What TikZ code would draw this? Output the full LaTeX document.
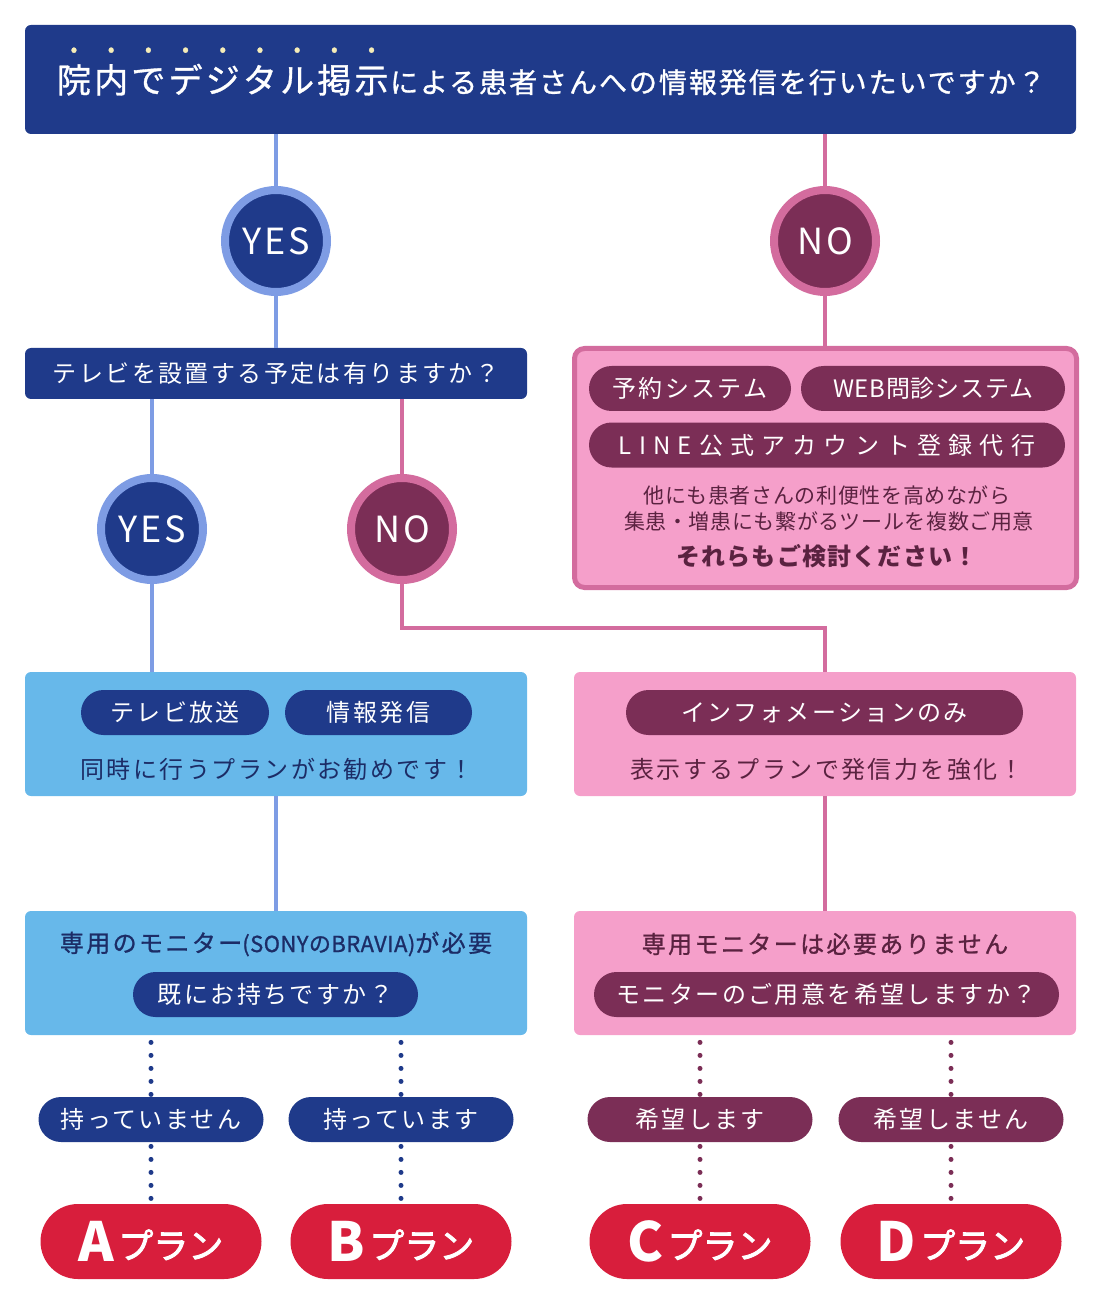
\documentclass[tikz,border=0pt]{standalone}
\usepackage{fontspec}
\setmainfont{Noto Sans CJK JP}
\usetikzlibrary{calc}

\definecolor{navy}{HTML}{1F3A8A}
\definecolor{skyline}{HTML}{7E9CE4}
\definecolor{skyfill}{HTML}{67B8EA}
\definecolor{wine}{HTML}{7B2E56}
\definecolor{rose}{HTML}{D36C9E}
\definecolor{rosefill}{HTML}{F59FCA}
\definecolor{planred}{HTML}{D81E3C}
\definecolor{inknavy}{HTML}{1C2C66}
\definecolor{inkwine}{HTML}{5A2240}
\definecolor{dotcream}{HTML}{F6EDB8}

\newcommand\fsz[1]{\fontsize{#1}{#1}\selectfont}
\newcommand\bouten[1]{\makebox[18.6pt]{\ooalign{#1\cr\hidewidth\smash{\raisebox{1.08em}{\fsz{10pt}\color{dotcream}•}}\hidewidth\cr}}}

\begin{document}
\begin{tikzpicture}[x=0.5pt,y=-0.5pt,
  box/.style={rectangle,rounded corners=3pt,inner sep=0pt},
  pill/.style={rectangle,rounded corners=11.25pt,minimum height=22.5pt,inner sep=0pt,
    text=white,font=\fsz{12pt}\addfontfeature{LetterSpace=10}},
  ans/.style={circle,line width=4pt,minimum size=51pt,inner sep=0pt,
    text=white,font=\fsz{18pt}\addfontfeature{LetterSpace=8}},
  plan/.style={rectangle,rounded corners=18.75pt,minimum width=110.5pt,minimum height=37.5pt,
    inner sep=0pt,fill=planred,text=white},
  note/.style={font=\fsz{12pt}\addfontfeature{LetterSpace=10}},
  yesline/.style={skyline,line width=2pt},
  noline/.style={rose,line width=2pt},
  dotline/.style={line width=2.5pt,line cap=round,dash pattern=on 0pt off 6.5pt},
  ]
\useasboundingbox (0,0) rectangle (1100,1304);

% question
\node[box,fill=navy,minimum width=525.5pt,minimum height=54.5pt,text=white,font=\fsz{17pt}\addfontfeature{FakeBold=1}] (title) at (550.5,79.5)
  {\bouten{院}\bouten{内}\bouten{で}\bouten{デ}\bouten{ジ}\bouten{タ}\bouten{ル}\bouten{掲}\bouten{示}{\fsz{14pt}\addfontfeature{LetterSpace=7}による患者さんへの情報発信を行いたいですか？}};

\node[ans,fill=navy,draw=skyline] (yes1) at (276,241) {YES};
\node[ans,fill=wine,draw=rose] (no1) at (825,241) {NO};

\node[box,fill=navy,minimum width=251pt,minimum height=25.5pt,text=white,note] (tv) at (276,373.5) {テレビを設置する予定は有りますか？};

\node[ans,fill=navy,draw=skyline] (yes2) at (152,529) {YES};
\node[ans,fill=wine,draw=rose] (no2) at (402,529) {NO};

% other tools
\node[box,rounded corners=5pt,fill=rosefill,draw=rose,line width=2.5pt,minimum width=251pt,minimum height=119.5pt] (other) at (825.5,468) {};
\node[pill,fill=wine,minimum width=101pt] (rsv) at (690,388.5) {予約システム};
\node[pill,fill=wine,minimum width=132pt,font=\fsz{12pt}\addfontfeature{LetterSpace=3}] (web) at (933,388.5) {WEB問診システム};
\node[pill,fill=wine,minimum width=238pt,font=\fsz{12pt}\addfontfeature{LetterSpace=30}] (line) at (827,445) {LINE公式アカウント登録代行};
\node[text=inkwine,font=\fsz{10.5pt}\addfontfeature{LetterSpace=3}] (other1) at (827,495) {他にも患者さんの利便性を高めながら};
\node[text=inkwine,font=\fsz{10.5pt}\addfontfeature{LetterSpace=3}] (other2) at (829,522) {集患・増患にも繋がるツールを複数ご用意};
\node[text=inkwine,font=\fsz{12pt}\bfseries\addfontfeature{LetterSpace=5}] (other3) at (827,556) {それらもご検討ください！};

% plans
\node[box,fill=skyfill,minimum width=251pt,minimum height=62pt] (both) at (276,734) {};
\node[pill,fill=navy,minimum width=94pt] (bcast) at (175,712.5) {テレビ放送};
\node[pill,fill=navy,minimum width=93.5pt] (info) at (378.5,712.5) {情報発信};
\node[note,text=inknavy] (bothtxt) at (277,769) {同時に行うプランがお勧めです！};

\node[box,fill=rosefill,minimum width=251pt,minimum height=62pt] (infoonly) at (825,734) {};
\node[pill,fill=wine,minimum width=198.5pt] (infopill) at (824.5,712.5) {インフォメーションのみ};
\node[note,text=inkwine] (infotxt) at (827,769) {表示するプランで発信力を強化！};

\node[box,fill=skyfill,minimum width=251pt,minimum height=62pt] (monitor) at (276,973) {};
\node[note,text=inknavy,font=\fsz{12pt}\addfontfeature{LetterSpace=10,FakeBold=1}] (montxt) at (276,944) {専用のモニター{\fsz{11pt}\addfontfeature{LetterSpace=2}(SONYのBRAVIA)}が必要};
\node[pill,fill=navy,minimum width=142.5pt] (have) at (275.5,994.5) {既にお持ちですか？};

\node[box,fill=rosefill,minimum width=251pt,minimum height=62pt] (needmon) at (825,973) {};
\node[note,text=inkwine,font=\fsz{12pt}\addfontfeature{LetterSpace=10,FakeBold=1}] (needtxt) at (825,944) {専用モニターは必要ありません};
\node[pill,fill=wine,minimum width=232.5pt] (want) at (826.5,994.5) {モニターのご用意を希望しますか？};

\draw[yesline] (yes1.north) -- (yes1.north |- title.south);
\draw[yesline] (yes1.south) -- (yes1.south |- tv.north);
\draw[noline] (no1.north) -- (no1.north |- title.south);
\draw[noline] (no1.south) -- (no1.south |- other.north);
\draw[yesline] (yes2.north) -- (yes2.north |- tv.south);
\draw[noline] (no2.north) -- (no2.north |- tv.south);
\draw[yesline] (yes2.south) -- (yes2.south |- both.north);
\draw[noline] (no2.south) |- ($(no2.south)!.5!(infoonly.north)$) -| (infoonly.north);
\draw[yesline] (both.south) -- (monitor.north);
\draw[noline] (infoonly.south) -- (needmon.north);

\foreach \n/\x/\reply/\ltr/\col/\src in {1/151/持っていません/A/navy/monitor,2/401/持っています/B/navy/monitor,3/700/希望します/C/wine/needmon,4/951/希望しません/D/wine/needmon}{
  \node[pill,fill=\col,minimum width=112.5pt] (reply\n) at (\x,1119.5) {\reply};
  \node[plan] (plan\n) at (\x,1241.5) {{\fsz{27pt}\bfseries\ltr}\hspace{2pt}\raisebox{1.5pt}{\fsz{17.5pt}\addfontfeature{FakeBold=2.5}プラン}};
  \draw[dotline,\col] ($(reply\n.north |- \src.south)+(0,7)$) -- ($(reply\n.north)+(0,-2)$);
  \draw[dotline,\col] ($(reply\n.south)+(0,4)$) -- ($(plan\n.north)+(0,-5)$);
}
\end{tikzpicture}
\end{document}
